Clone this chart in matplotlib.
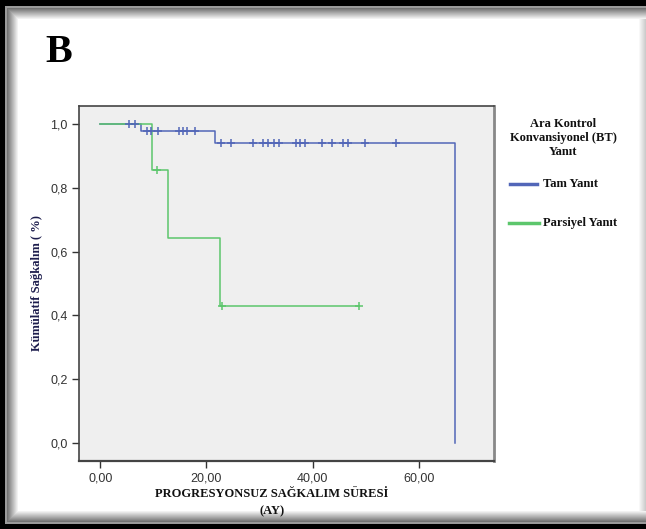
import numpy as np
import matplotlib
matplotlib.use("Agg")
import matplotlib.pyplot as plt
from matplotlib.patches import Rectangle
from matplotlib.lines import Line2D

# Kaplan-Meier step data
tam_times = [0.0, 7.7, 21.7, 66.8]
tam_surv = [1.0, 0.977, 0.939, 0.0]
tam_censor = [5.5, 6.6, 8.8, 9.6, 10.8, 14.8, 15.6, 16.4, 17.8,
              22.7, 24.7, 28.8, 30.7, 31.6, 32.7, 33.6, 36.8, 37.7, 38.6,
              41.7, 43.7, 45.7, 46.7, 49.8, 55.7]

par_times = [0.0, 9.8, 12.7, 22.6, 48.8]
par_surv = [1.0, 0.857, 0.643, 0.429, 0.429]
par_censor = [10.7, 22.9, 48.8]

xticks = [0, 20, 40, 60]
xticklabels = ["0,00", "20,00", "40,00", "60,00"]
yticks = [0.0, 0.2, 0.4, 0.6, 0.8, 1.0]
yticklabels = ["0,0", "0,2", "0,4", "0,6", "0,8", "1,0"]

blue = "#5266b8"
green = "#5cc66c"
serif = "Liberation Serif"
sans = "Liberation Sans"

W, H = 646, 529
fig = plt.figure(figsize=(W / 100, H / 100), dpi=100)

def box(x0, y0, x1, y1, **kw):
    # rectangle in pixel coords (top-left origin)
    fig.patches.append(Rectangle((x0 / W, 1 - y1 / H), (x1 - x0) / W, (y1 - y0) / H,
                                 transform=fig.transFigure, zorder=-10,
                                 antialiased=False, **kw))

# frame: black border, gray line, soft shadow inside
box(0, 0, W, H, facecolor="black", edgecolor="none")
box(5, 6, W, 524, facecolor="#9a9a9a", edgecolor="none")
shade = np.linspace(0.45, 1.0, 12)
for i, g in enumerate(shade):
    box(7 + i, 8 + i, W, 522 - i, facecolor=(g, g, g), edgecolor="none")
# light fade toward the right edge (each strip runs to the edge, no gaps)
for i, g in enumerate(np.linspace(1.0, 0.8, 8)):
    box(W - 8 + i, 19, W, 511, facecolor=(g, g, g), edgecolor="none")
box(19, 20, W - 8, 510, facecolor="white", edgecolor="none")

ax = fig.add_axes([79 / W, 1 - 461 / H, 415 / W, 355 / H])
ax.set_facecolor("#efefef")

def surv_at(times, surv, t):
    idx = np.searchsorted(times, t, side="right") - 1
    return surv[idx]

ax.step(tam_times, tam_surv, where="post", color=blue, lw=1.1)
ax.step(par_times, par_surv, where="post", color=green, lw=1.1)
ax.plot(tam_censor, [surv_at(tam_times, tam_surv, t) for t in tam_censor], "+",
        color=blue, ms=6, mew=1.1)
ax.plot(par_censor, [surv_at(par_times, par_surv, t) for t in par_censor], "+",
        color=green, ms=6, mew=1.1)

ax.set_xlim(-4.0, 74.2)
ax.set_ylim(-0.056, 1.056)
ax.set_xticks(xticks)
ax.set_xticklabels(xticklabels, fontfamily=sans, fontsize=9, color="#333333")
ax.set_yticks(yticks)
ax.set_yticklabels(yticklabels, fontfamily=sans, fontsize=9, color="#333333")
ax.tick_params(direction="out", length=5, width=1, color="#333333", pad=3)
for s in ax.spines.values():
    s.set_color("#444444")
    s.set_linewidth(1.2)
ax.spines["right"].set_color("#888888")
ax.spines["right"].set_linewidth(2)
ax.spines["bottom"].set_linewidth(1.6)

ax.set_ylabel("Kümülatif Sağkalım ( %)", fontfamily=serif, fontweight="bold",
              fontsize=9, color="#1c1c4c")
ax.yaxis.set_label_coords(-0.087, 0.5)

fig.text(272 / W, 1 - 494 / H, "PROGRESYONSUZ SAĞKALIM SÜRESİ", fontfamily=serif,
         fontweight="bold", fontsize=9, ha="center", va="center", color="#111111")
fig.text(272 / W, 1 - 511 / H, "(AY)", fontfamily=serif,
         fontweight="bold", fontsize=9, ha="center", va="center", color="#111111")

fig.text(45 / W, 1 - 52 / H, "B", fontfamily=serif, fontweight="bold",
         fontsize=29, ha="left", va="center", color="black")

# legend drawn by hand to match placement
fig.text(563 / W, 1 - 138 / H, "Ara Kontrol\nKonvansiyonel (BT)\nYanıt", fontfamily=serif,
         fontweight="bold", fontsize=9, ha="center", va="center", linespacing=1.2,
         color="#111111")
fig.add_artist(Line2D([510 / W, 537 / W], [1 - 184 / H] * 2, color=blue, lw=2.5,
                      transform=fig.transFigure))
fig.text(543 / W, 1 - 184 / H, "Tam Yanıt", fontfamily=serif, fontweight="bold",
         fontsize=9, ha="left", va="center", color="#111111")
fig.add_artist(Line2D([509 / W, 539 / W], [1 - 223 / H] * 2, color=green, lw=2.5,
                      transform=fig.transFigure))
fig.text(543 / W, 1 - 223 / H, "Parsiyel Yanıt", fontfamily=serif, fontweight="bold",
         fontsize=9, ha="left", va="center", color="#111111")

fig.savefig("out.png", dpi=100)
